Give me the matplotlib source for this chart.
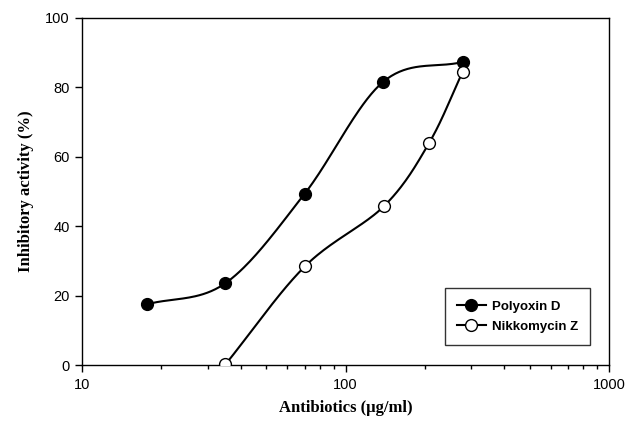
import numpy as np
import matplotlib
matplotlib.use("Agg")
import matplotlib.pyplot as plt
from matplotlib.ticker import LogLocator, NullFormatter, FixedLocator

polyoxin_x = [17.6, 35, 70, 139, 278]
polyoxin_y = [17.5, 23.6, 49.4, 81.6, 87.3]
nikko_x = [35, 70, 140, 208, 278]
nikko_y = [0.2, 28.4, 45.8, 64.1, 84.4]
xlabel = "Antibiotics (\u00b5g/ml)"
ylabel = "Inhibitory activity (%)"
names = ["Polyoxin D", "Nikkomycin Z"]


def smooth(xs, ys, n=40):
    lx = np.log10(np.asarray(xs, float))
    y = np.asarray(ys, float)
    P = np.column_stack([lx, y])
    P = np.vstack([P[0] - (P[1] - P[0]), P, P[-1] + (P[-1] - P[-2])])
    out = []
    for i in range(1, len(P) - 2):
        p0, p1, p2, p3 = P[i - 1], P[i], P[i + 1], P[i + 2]
        t = np.linspace(0, 1, n)[:, None]
        seg = 0.5 * ((2 * p1) + (-p0 + p2) * t + (2 * p0 - 5 * p1 + 4 * p2 - p3) * t ** 2
                     + (-p0 + 3 * p1 - 3 * p2 + p3) * t ** 3)
        out.append(seg)
    out = np.vstack(out)
    return 10 ** out[:, 0], out[:, 1]


fig = plt.figure(figsize=(6.32, 4.26), dpi=100)
ax = fig.add_axes([0.13, 0.143, 0.8336, 0.815])

sx, sy = smooth(polyoxin_x, polyoxin_y)
ax.plot(sx, sy, color="black", lw=1.5, zorder=2)
ax.plot(polyoxin_x, polyoxin_y, "o", color="black", mfc="black", ms=8.5, zorder=3)
sx, sy = smooth(nikko_x, nikko_y)
ax.plot(sx, sy, color="black", lw=1.5, zorder=2)
ax.plot(nikko_x, nikko_y, "o", color="black", mfc="white", ms=8.5, mew=1.0, zorder=3)

h1, = ax.plot([], [], "-o", color="black", mfc="black", ms=8.5, lw=1.5)
h2, = ax.plot([], [], "-o", color="black", mfc="white", ms=8.5, lw=1.5)
leg = ax.legend([h1, h2], names, loc="lower right", bbox_to_anchor=(0.977, 0.04),
                frameon=True, fancybox=False, edgecolor="black", handlelength=2.2,
                borderpad=0.9, labelspacing=0.6, handletextpad=0.5,
                prop={"family": "Liberation Sans", "weight": "bold", "size": 9.5})
leg.get_frame().set_linewidth(1.0)

ax.set_xscale("log")
ax.set_xlim(10, 1000)
ax.set_ylim(0, 100)
ax.yaxis.set_major_locator(FixedLocator([0, 20, 40, 60, 80, 100]))
ax.xaxis.set_major_locator(FixedLocator([10, 100, 1000]))
ax.set_xticklabels(["10", "100", "1000"])
ax.xaxis.set_minor_locator(LogLocator(base=10, subs=np.arange(2, 10)))
ax.xaxis.set_minor_formatter(NullFormatter())
ax.tick_params(axis="both", which="major", direction="out", length=5, width=1,
               labelsize=10.5, pad=4)
ax.tick_params(axis="x", which="minor", direction="out", length=3, width=1)
for lab in ax.get_xticklabels() + ax.get_yticklabels():
    lab.set_family("Liberation Sans")
for s in ax.spines.values():
    s.set_linewidth(1.0)

ax.set_xlabel(xlabel, family="Liberation Serif", weight="bold", fontsize=12, labelpad=6)
ax.set_ylabel(ylabel, family="Liberation Serif", weight="bold", fontsize=12, labelpad=8)

fig.savefig("out.png", dpi=100)
